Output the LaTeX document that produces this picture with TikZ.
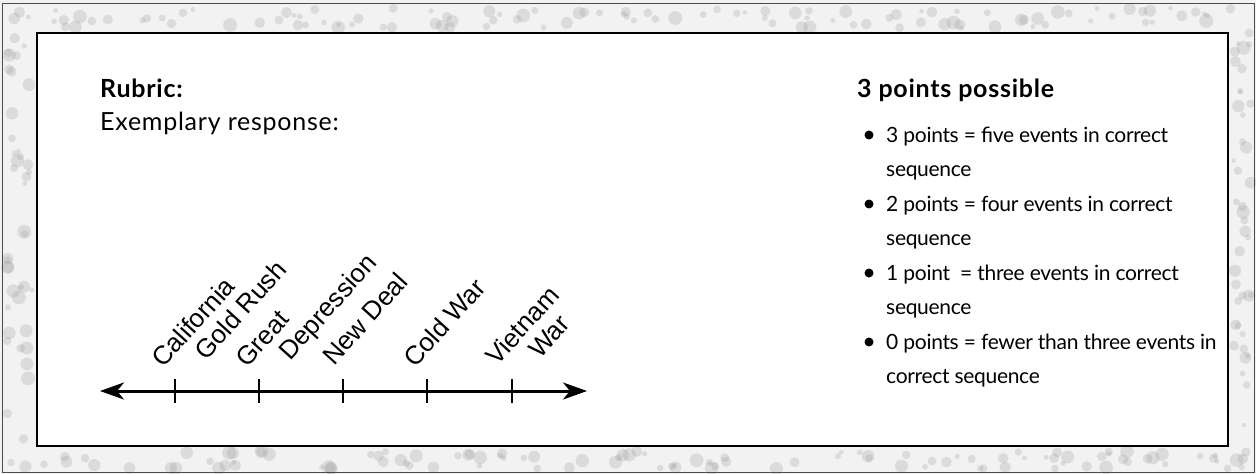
\documentclass[tikz,border=0pt]{standalone}
\usepackage{fontspec}
\setmainfont{Lato}
\newfontfamily\arialfont{Liberation Sans}
\newfontfamily\widefont[LetterSpace=3]{Lato}
\newfontfamily\itemfont[LetterSpace=-1.5]{Lato}
\usetikzlibrary{arrows.meta}
\tikzset{
  lefttext/.style={anchor=base west, inner sep=0pt, font=\widefont\fontsize{25}{30}\selectfont},
  headtext/.style={anchor=base west, inner sep=0pt, font=\widefont\fontsize{25}{30}\selectfont\bfseries},
  itemtext/.style={anchor=base west, inner sep=0pt, font=\itemfont\fontsize{21}{26}\selectfont},
  evlabel/.style={anchor=base west, inner sep=0pt, rotate=48, font=\arialfont\fontsize{26}{26}\selectfont},
  tickmark/.style={line width=2.5pt},
  bulletdot/.style={circle, fill=black, inner sep=0pt, minimum size=9pt},
  speck/.style={fill=gray!70, opacity=0.3},
}
\begin{document}
\begin{tikzpicture}[x=1pt,y=-1pt]
\useasboundingbox (0,0) rectangle (1256,474);
% textured frame (approximated by grey specks)
\fill[gray!10] (0,0) rectangle (1256,474);
\pgfmathsetseed{12}
\foreach \i in {1,...,110} {
  \pgfmathsetmacro{\xx}{6+rnd*1244}
  \pgfmathsetmacro{\yy}{8+rnd*20}
  \pgfmathsetmacro{\rr}{2+rnd*5}
  \fill[speck] (\xx,\yy) circle[radius=\rr pt];
  \pgfmathsetmacro{\xx}{6+rnd*1244}
  \pgfmathsetmacro{\yy}{451+rnd*18}
  \pgfmathsetmacro{\rr}{2+rnd*5}
  \fill[speck] (\xx,\yy) circle[radius=\rr pt];
}
\foreach \i in {1,...,40} {
  \pgfmathsetmacro{\xx}{7+rnd*25}
  \pgfmathsetmacro{\yy}{30+rnd*415}
  \pgfmathsetmacro{\rr}{2+rnd*5}
  \fill[speck] (\xx,\yy) circle[radius=\rr pt];
  \pgfmathsetmacro{\xx}{1233+rnd*18}
  \pgfmathsetmacro{\yy}{30+rnd*415}
  \pgfmathsetmacro{\rr}{2+rnd*5}
  \fill[speck] (\xx,\yy) circle[radius=\rr pt];
}
\draw[line width=1pt, gray!60!black] (2,3) rectangle (1254,472);
\filldraw[fill=white, draw=black, line width=1.3pt] (37,33) rectangle (1228,446);

% left column
\node[headtext] (rubric) at (100,97) {Rubric:};
\node[lefttext] (exemplary) at (100,130) {Exemplary response:};

% timeline
\coordinate (tl) at (100,391);
\coordinate (tr) at (587,391);
\draw[line width=3pt, {Stealth[length=24pt,width=17pt,inset=7pt]}-{Stealth[length=24pt,width=17pt,inset=7pt]}] (tl) -- (tr);
\foreach \n/\x in {t1/175, t2/259, t3/343, t4/427, t5/512} {
  \coordinate (\n a) at (\x,379);
  \coordinate (\n b) at (\x,403);
  \draw[tickmark] (\n a) -- (\n b);
}
% labels
\node[evlabel] (l1a) at (163,369) {California};
\node[evlabel] (l1b) at (206,362) {Gold Rush};
\node[evlabel] (l2a) at (247,369) {Great};
\node[evlabel] (l2b) at (290,362) {Depression};
\node[evlabel] (l3) at (334,367) {New Deal};
\node[evlabel] (l4) at (415,369) {Cold War};
\node[evlabel] (l5a) at (497,367) {Vietnam};
\node[evlabel] (l5b) at (540,360) {War};

% right column
\node[headtext] (points) at (857,97) {3 points possible};
\foreach \n/\y/\a/\b in {
  i1/142/{3 points = five events in correct}/{sequence},
  i2/211/{2 points = four events in correct}/{sequence},
  i3/280/{1 point\ \ = three events in correct}/{sequence},
  i4/349/{0 points = fewer than three events in}/{correct sequence}} {
  \node[bulletdot] (\n dot) at (869,\y-7) {};
  \node[itemtext] (\n a) at (886,\y) {\a};
  \node[itemtext] (\n b) at (886,\y+34) {\b};
}
\end{tikzpicture}
\end{document}
